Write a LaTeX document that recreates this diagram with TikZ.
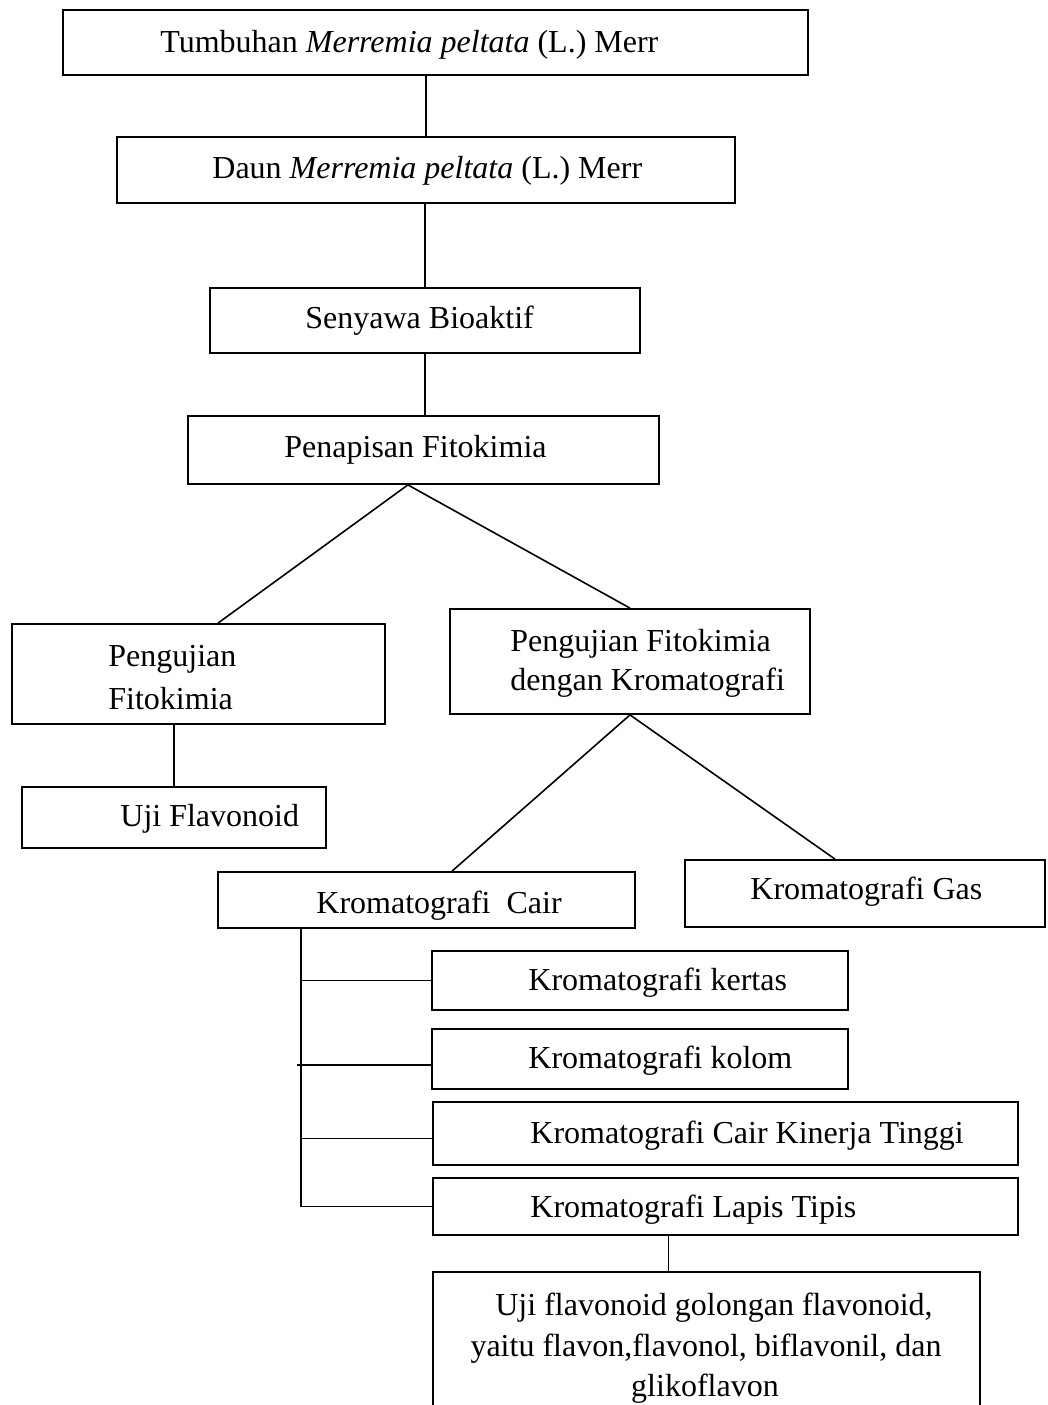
\documentclass[tikz,border=0pt]{standalone}
\usepackage{fontspec}
\setmainfont{Liberation Serif}
\usetikzlibrary{fit,calc}
\tikzset{
  box/.style={draw, line width=0.9pt, inner sep=0pt, fit={#1}},
  txt/.style={inner sep=0pt, anchor=west, yshift=-1.5pt, font=\fontsize{16}{20.5}\selectfont},
  conn/.style={line width=0.8pt}
}
\begin{document}
\begin{tikzpicture}[x=0.5pt,y=-0.5pt]
\clip (0,0) rectangle (1048,1405);
\fill[white] (0,0) rectangle (1048,1405);
% boxes
\node[box={(63,10) (808,75)}] (b1) {};
\node[box={(117,137) (735,203)}] (b2) {};
\node[box={(210,288) (640,353)}] (b3) {};
\node[box={(188,416) (659,484)}] (b4) {};
\node[box={(12,624) (385,724)}] (b5) {};
\node[box={(450,609) (810,714)}] (b6) {};
\node[box={(22,787) (326,848)}] (b7) {};
\node[box={(218,872) (635,928)}] (b8) {};
\node[box={(685,860) (1045,927)}] (b9) {};
\node[box={(432,951) (848,1010)}] (b10) {};
\node[box={(432,1029) (848,1089)}] (b11) {};
\node[box={(433,1102) (1018,1165)}] (b12) {};
\node[box={(433,1178) (1018,1235)}] (b13) {};
\node[box={(433,1272) (980,1430)}] (b14) {};
% texts
\node[txt] (t1) at (160,42) {Tumbuhan \textit{Merremia peltata} (L.) Merr};
\node[txt] (t2) at (212,168) {Daun \textit{Merremia peltata} (L.) Merr};
\node[txt] (t3) at (305,318) {Senyawa Bioaktif};
\node[txt] (t4) at (284,447) {Penapisan Fitokimia};
\node[txt] (t5a) at (108,656) {Pengujian};
\node[txt] (t5b) at (108,696) {Fitokimia};
\node[txt] (t6a) at (510,641) {Pengujian Fitokimia};
\node[txt] (t6b) at (510,680) {dengan Kromatografi};
\node[txt] (t7) at (120,816) {Uji Flavonoid};
\node[txt] (t8) at (316,903) {Kromatografi\ \ Cair};
\node[txt] (t9) at (750,889) {Kromatografi Gas};
\node[txt] (t10) at (528,980) {Kromatografi kertas};
\node[txt] (t11) at (528,1058) {Kromatografi kolom};
\node[txt] (t12) at (530,1133) {Kromatografi Cair Kinerja Tinggi};
\node[txt] (t13) at (530,1207) {Kromatografi Lapis Tipis};
\node[txt, anchor=center] (t14a) at (714,1305) {Uji flavonoid golongan flavonoid,};
\node[txt, anchor=center] (t14b) at (706,1346) {yaitu flavon,flavonol, biflavonil, dan};
\node[txt, anchor=center] (t14c) at (705,1386) {glikoflavon};
% connectors
\draw[conn] (b2.north |- b1.south) -- (b2.north);
\draw[conn] (b3.north |- b2.south) -- (b3.north);
\draw[conn] (b3.south) -- (b3.south |- b4.north);
\coordinate (p4) at ($(b4.south west)!0.467!(b4.south east)$);
\draw[conn] (p4) -- ($(b5.north west)!0.552!(b5.north east)$);
\draw[conn] (p4) -- (b6.north);
\draw[conn] (b7.north |- b5.south) -- (b7.north);
\draw[conn] (b6.south) -- ($(b8.north west)!0.561!(b8.north east)$);
\draw[conn] (b6.south) -- ($(b9.north west)!0.417!(b9.north east)$);
\coordinate (tr) at ($(b8.south west)!0.201!(b8.south east)$);
\draw[conn] (tr) -- (tr |- b13.west) -- (b13.west);
\draw[conn] (tr |- b10.west) -- (b10.west);
\draw[conn] ([xshift=-2pt,yshift=-3pt]tr |- b11.west) -- ([yshift=-3pt]b11.west);
\draw[conn] ([yshift=-2.5pt]tr |- b12.west) -- ([yshift=-2.5pt]b12.west);
\coordinate (p13) at ($(b13.south west)!0.403!(b13.south east)$);
\draw[conn] (p13) -- (p13 |- b14.north);
\end{tikzpicture}
\end{document}
